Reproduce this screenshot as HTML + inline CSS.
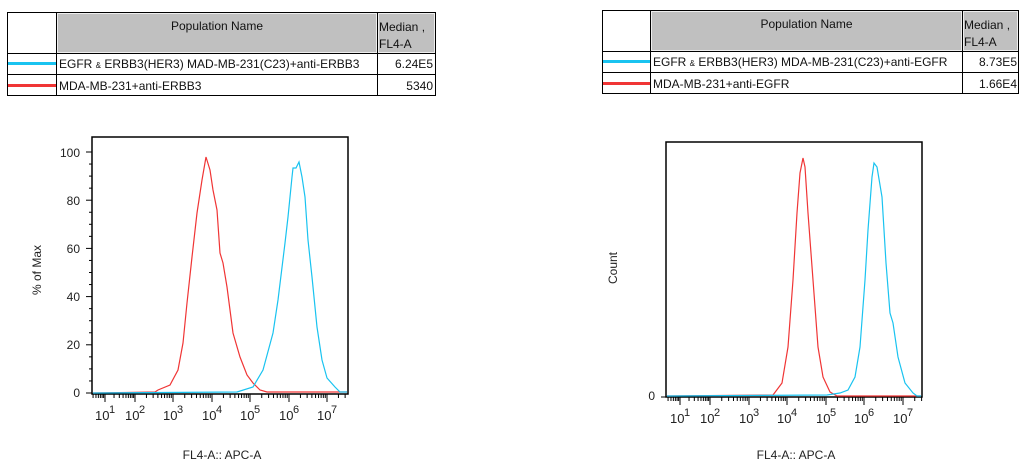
<!DOCTYPE html>
<html><head><meta charset="utf-8"><style>
body{margin:0;width:1028px;height:466px;background:#fff;position:relative;font-family:"Liberation Sans",Arial,sans-serif;overflow:hidden}
.a{position:absolute;box-sizing:border-box}
.t{font-size:12px;color:#111;line-height:14px}
</style></head><body>
<!-- Left table -->
<div class="a" style="left:7px;top:12px;width:429px;height:84px;border:1px solid #000"></div>
<div class="a" style="left:56px;top:12px;width:1px;height:84px;background:#000"></div>
<div class="a" style="left:377px;top:12px;width:1px;height:84px;background:#000"></div>
<div class="a" style="left:57px;top:13px;width:320px;height:40px;background:#c0c0c0;border:1px solid #eee"></div>
<div class="a" style="left:378px;top:13px;width:57px;height:40px;background:#c0c0c0;border:1px solid #eee"></div>
<div class="a" style="left:7px;top:53px;width:429px;height:1px;background:#000"></div>
<div class="a" style="left:7px;top:74px;width:429px;height:1px;background:#000"></div>
<div class="a t" style="left:57px;top:19px;width:320px;text-align:center">Population Name</div>
<div class="a t" style="left:379px;top:19px;line-height:17px">Median ,<br>FL4-A</div>
<div class="a" style="left:8px;top:62px;width:48px;height:3px;background:#19c3f0"></div>
<div class="a" style="left:8px;top:84px;width:48px;height:3px;background:#f03535"></div>
<div class="a t" style="left:59px;top:57px">EGFR <span style="font-size:8px">&amp;</span> ERBB3(HER3) MAD-MB-231(C23)+anti-ERBB3</div>
<div class="a t" style="left:59px;top:79px">MDA-MB-231+anti-ERBB3</div>
<div class="a t" style="left:378px;top:57px;width:55px;text-align:right">6.24E5</div>
<div class="a t" style="left:378px;top:79px;width:55px;text-align:right">5340</div>
<!-- Right table -->
<div class="a" style="left:602px;top:10px;width:417px;height:84px;border:1px solid #000"></div>
<div class="a" style="left:650px;top:10px;width:1px;height:84px;background:#000"></div>
<div class="a" style="left:962px;top:10px;width:1px;height:84px;background:#000"></div>
<div class="a" style="left:651px;top:11px;width:311px;height:40px;background:#c0c0c0;border:1px solid #eee"></div>
<div class="a" style="left:963px;top:11px;width:55px;height:40px;background:#c0c0c0;border:1px solid #eee"></div>
<div class="a" style="left:602px;top:51px;width:417px;height:1px;background:#000"></div>
<div class="a" style="left:602px;top:72px;width:417px;height:1px;background:#000"></div>
<div class="a t" style="left:651px;top:17px;width:311px;text-align:center">Population Name</div>
<div class="a t" style="left:964px;top:17px;line-height:17px">Median ,<br>FL4-A</div>
<div class="a" style="left:603px;top:60px;width:47px;height:3px;background:#19c3f0"></div>
<div class="a" style="left:603px;top:82px;width:47px;height:3px;background:#f03535"></div>
<div class="a t" style="left:653px;top:55px">EGFR <span style="font-size:8px">&amp;</span> ERBB3(HER3) MDA-MB-231(C23)+anti-EGFR</div>
<div class="a t" style="left:653px;top:77px">MDA-MB-231+anti-EGFR</div>
<div class="a t" style="left:963px;top:55px;width:54px;text-align:right">8.73E5</div>
<div class="a t" style="left:963px;top:77px;width:54px;text-align:right">1.66E4</div>

<svg class="a" style="left:0;top:0" width="1028" height="466" id="s" font-family="Liberation Sans, Arial, sans-serif" font-size="12" fill="#222">
<rect x="92" y="137" width="256" height="257" fill="none" stroke="#000" stroke-width="1.5"/>
<rect x="666" y="142" width="256" height="255" fill="none" stroke="#000" stroke-width="1.5"/>
<g id="tk" stroke="#000" stroke-width="1"></g>
<polyline fill="none" stroke="#f03535" stroke-width="1.2" points="93,393 155,392 158,390 170,385 178,370 183,343 187,303 192,257 197,213 202,180 206,157 210,170 213,190 217,210 220,253 223,263 227,287 230,310 233,333 240,357 247,375 253,383 260,390 267,392 347,392"/>
<polyline fill="none" stroke="#19c3f0" stroke-width="1.2" points="93,393 237,392 253,387 263,370 273,333 278,300 285,243 288,217 292,177 293,168 296,168 299,162 302,177 305,197 308,240 312,277 317,327 322,360 327,378 335,387 340,392 347,392"/>
<polyline fill="none" stroke="#f03535" stroke-width="1.2" points="667,396 773,395 782,383 788,347 793,280 797,213 800,173 803,158 805,167 808,213 813,280 818,347 823,377 830,392 837,396 921,396"/>
<polyline fill="none" stroke="#19c3f0" stroke-width="1.2" points="667,396 827,395 840,393 848,390 855,377 860,347 865,280 868,230 872,177 874,163 877,167 882,197 886,263 890,313 893,323 898,357 905,383 913,393 917,396 921,396"/>
<g text-anchor="end">
<text x="80" y="157">100</text><text x="80" y="205">80</text><text x="80" y="253">60</text><text x="80" y="301">40</text><text x="80" y="349">20</text><text x="80" y="397">0</text>
<text x="655" y="400">0</text>
</g>
<text transform="translate(41,270) rotate(-90)" text-anchor="middle">% of Max</text>
<text transform="translate(617,268) rotate(-90)" text-anchor="middle">Count</text>
<text x="222" y="459" text-anchor="middle">FL4-A:: APC-A</text>
<text x="796" y="459" text-anchor="middle">FL4-A:: APC-A</text>
<g id="lb"></g>
</svg>
<script>
var tk=document.getElementById('tk'),lb=document.getElementById('lb'),h='',l='';
function ln(x1,y1,x2,y2){h+='<line x1="'+x1+'" y1="'+y1+'" x2="'+x2+'" y2="'+y2+'"/>';}
function ax(dec,y0,xmin,xmax){
 for(var k=0;k<dec.length;k++){
  var x=dec[k];ln(x,y0,x,y0+8);
  l+='<text x="'+(x-10)+'" y="'+(y0+26)+'" font-size="13">10</text><text x="'+(x+4)+'" y="'+(y0+19)+'" font-size="11">'+(k+1)+'</text>';
  var w=(k<dec.length-1?dec[k+1]-x:dec[k]-dec[k-1]);
  for(var m=2;m<10;m++){var xx=x+w*Math.log10(m);if(xx<xmax)ln(xx,y0,xx,y0+4);var xb=x-w*(1-Math.log10(m));if(k==0&&xb>xmin)ln(xb,y0,xb,y0+4);}
 }
}
ax([105,135,173,212,250,289,327],394,92,348);
ax([680,710,749,787,826,864,903],397,666,922);
for(var i=0;i<=20;i++){var y=393-i*12.05;ln(i%4==0?86:89,y,92,y);}
ln(661,397,666,397);
tk.innerHTML=h;lb.innerHTML=l;
</script>
</body></html>
